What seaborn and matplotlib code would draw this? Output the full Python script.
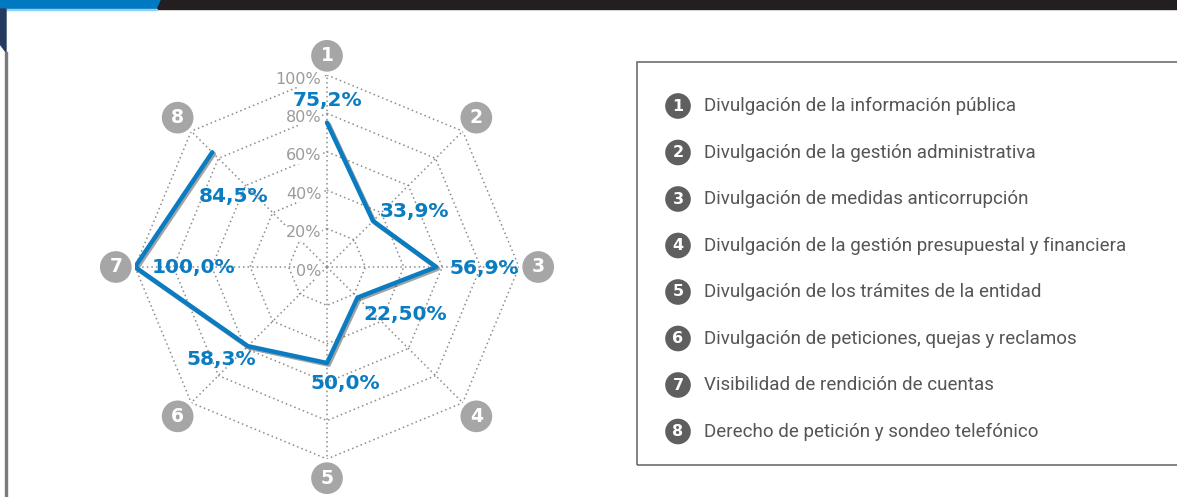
import numpy as np
import pandas as pd
import matplotlib
matplotlib.use("Agg")
import matplotlib.pyplot as plt
import matplotlib.patheffects as pe
from matplotlib.patches import Rectangle, Polygon
import seaborn as sns

# data
axis_ids = ['1', '2', '3', '4', '5', '6', '7', '8']
values = [75.2, 33.9, 56.9, 22.5, 50.0, 58.3, 100.0, 84.5]
value_labels = ['75,2%', '33,9%', '56,9%', '22,50%', '50,0%', '58,3%', '100,0%', '84,5%']
grid_levels = [20, 40, 60, 80, 100]
tick_labels = ['0%', '20%', '40%', '60%', '80%', '100%']
legend_texts = [
    'Divulgación de la información pública',
    'Divulgación de la gestión administrativa',
    'Divulgación de medidas anticorrupción',
    'Divulgación de la gestión presupuestal y financiera',
    'Divulgación de los trámites de la entidad',
    'Divulgación de peticiones, quejas y reclamos',
    'Visibilidad de rendición de cuentas',
    'Derecho de petición y sondeo telefónico',
]

sns.set_theme(style='white')
plt.rcParams['font.family'] = ['DejaVu Sans']

BLUE = '#0a7cc2'
W, H = 1177, 497
fig = plt.figure(figsize=(W / 100, H / 100), dpi=100)

# header bars and left strip
fig.patches.append(Rectangle((157 / W, 1 - 9 / H), 1, 9 / H, transform=fig.transFigure, color='#231f20', zorder=0))
fig.patches.append(Polygon([(0, 1), (160 / W, 1), (156 / W, 1 - 9 / H), (0, 1 - 9 / H)], closed=True,
                           transform=fig.transFigure, color='#0079c1', zorder=1))
fig.patches.append(Rectangle((0, 1 - 10 / H), 157 / W, 1 / H, transform=fig.transFigure, color='#8fd0f5', zorder=1))
fig.patches.append(Polygon([(0, 1 - 9 / H), (6 / W, 1 - 9 / H), (6 / W, 1 - 52 / H), (0, 1 - 44 / H)], closed=True,
                           transform=fig.transFigure, color='#243a5e', zorder=1))
fig.patches.append(Rectangle((5 / W, 0), 1.5 / W, 1 - 52 / H, transform=fig.transFigure, color='#7a7a7a', zorder=1))

# radar axes: centre (327, 267), radius 192 px
cx, cy, R = 327, 267, 192
ax = fig.add_axes([(cx - R) / W, (H - cy - R) / H, 2 * R / W, 2 * R / H], projection='polar')
ax.set_theta_zero_location('N')
ax.set_theta_direction(-1)
ax.set_ylim(0, 100)
ax.grid(False)
ax.set_xticks([])
ax.set_yticks([])
ax.spines['polar'].set_visible(False)
ax.patch.set_alpha(0)

theta = np.linspace(0, 2 * np.pi, len(values), endpoint=False)
theta_closed = np.append(theta, theta[0])

# octagon grid
grid_kw = dict(color='#8c8c8c', lw=1.1, ls=(0, (1, 2)), zorder=1)
for lvl in grid_levels:
    ax.plot(theta_closed, [lvl] * len(theta_closed), **grid_kw)
for t in theta:
    ax.plot([t, t], [0, 100], **grid_kw)

# data line
df = pd.DataFrame({'theta': theta_closed, 'value': values + [values[0]]})
sns.lineplot(data=df, x='theta', y='value', sort=False, ax=ax, color=BLUE, lw=3.2, zorder=4,
             path_effects=[pe.SimpleLineShadow(offset=(1.2, -1.2), shadow_color='#1a1a1a', alpha=0.4),
                           pe.Normal()])
ax.set_xlabel('')
ax.set_ylabel('')

# radial tick labels along spoke 1
for lvl, lab in zip([0] + grid_levels, tick_labels):
    ax.annotate(lab, xy=(0, lvl), xytext=(-4, -3), textcoords='offset points', ha='right', va='center',
                fontsize=11.5, color='#9b9b9b', zorder=3,
                bbox=dict(boxstyle='square,pad=0.02', fc='white', ec='none'))

# value labels (offsets in points)
label_offsets = [(0, 16), (30, 6.5), (34.5, -1), (34, -12), (13, -14.5), (-19.5, -9.5), (42, 0), (15, -32)]
for t, v, lab, off in zip(theta, values, value_labels, label_offsets):
    ax.annotate(lab, xy=(t, v), xytext=off, textcoords='offset points', ha='center', va='center',
                fontsize=14.5, fontweight='bold', color=BLUE, zorder=5)

# numbered circles at the ends of the spokes
for t, num in zip(theta, axis_ids):
    ax.text(t, 110, num, ha='center', va='center', fontsize=13.5, fontweight='bold', color='white',
            clip_on=False, zorder=6,
            bbox=dict(boxstyle='circle,pad=0.42', fc='#a6a6a6', ec='white', lw=2.2))

# legend box
lx0, ly0, lx1, ly1 = 637, 62, 1180, 465
fig.patches.append(Rectangle((lx0 / W, 1 - ly1 / H), (lx1 - lx0) / W, (ly1 - ly0) / H, transform=fig.transFigure,
                             fill=False, ec='#6d6d6d', lw=1.2, zorder=2))
legend_y = [106, 152.5, 199, 245.5, 292, 338.5, 385, 431.5]
for num, txt, yy in zip(axis_ids, legend_texts, legend_y):
    fig.text(678 / W, 1 - yy / H, num, ha='center', va='center', fontsize=11.5, fontweight='bold', color='white',
             bbox=dict(boxstyle='circle,pad=0.42', fc='#5f5f5f', ec='white', lw=2))
    fig.text(704 / W, 1 - yy / H, txt, ha='left', va='center', fontsize=13.5, color='#555555',
             family=['Roboto', 'DejaVu Sans'])

fig.savefig('out.png', dpi=100, facecolor='white')
